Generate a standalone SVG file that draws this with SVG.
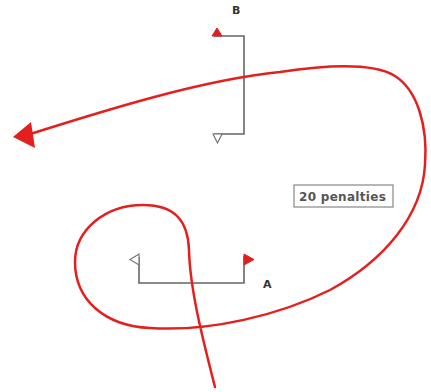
<svg xmlns="http://www.w3.org/2000/svg" width="431" height="392" viewBox="0 0 431 392">
<style>
.gate{fill:none;stroke:#666;stroke-width:1.6}
.red{fill:#e0201f;stroke:#e0201f;stroke-width:1}
.wht{fill:#fff;stroke:#777;stroke-width:1.2}
.lbl{font-family:"DejaVu Sans",Verdana,sans-serif;font-size:11px;fill:#333;font-weight:bold}
.route{fill:none;stroke:#e3201e;stroke-width:2.5;stroke-linecap:round}
</style>
<rect width="431" height="392" fill="#fff"/>
<g id="gateB">
<polyline class="gate" points="214,36 244,36 244,134 214,134"/>
<polygon class="red" points="217,28 212,36 222,36"/>
<polygon class="wht" points="213,134 222,134 217.5,143"/>
<text class="lbl" x="232" y="14">B</text>
</g>
<g id="gateA">
<polyline class="gate" points="139,257 139,283 244,283 244,256"/>
<polygon class="wht" points="139,254 139,265 130,259.5"/>
<polygon class="red" points="244,254 244,265 254,259.5"/>
<text class="lbl" x="263" y="288">A</text>
</g>
<g id="penalties">
<rect x="294" y="185" width="99" height="22" fill="#fff" stroke="#888" stroke-width="1.2"/>
<text x="299" y="201" font-family="DejaVu Sans, Verdana, sans-serif" font-size="12" font-weight="bold" letter-spacing="0.3" fill="#555">20 penalties</text>
</g>
<g id="connectors">
<path class="route" d="M215,387 C203,340 190,290 189,250 C188,222 176,205 143,205 C105,205 75,230 75,262 C75,300 105,326 150,328 C210,332 280,315 330,290 C385,260 422,215 425,165 C428,125 417,90 395,76 C372,62 320,66 280,72 C200,80 100,112 30,134"/>
<polygon fill="#e3201e" points="13,137 31,122 35,148"/>
</g>
</svg>
